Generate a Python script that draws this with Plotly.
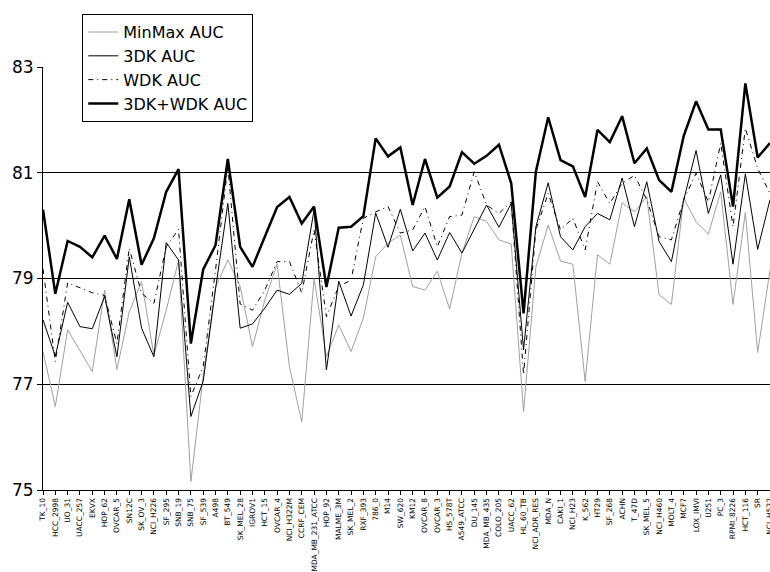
import plotly.graph_objects as go

# NCI-60 cell lines, in plotting order
cell_lines = [
    "TK_10", "HCC_2998", "UO_31", "UACC_257", "EKVX", "HOP_62", "OVCAR_5", "SN12C",
    "SK_OV_3", "NCI_H226", "SF_295", "SNB_19", "SNB_75", "SF_539", "A498", "BT_549",
    "SK_MEL_28", "IGROV1", "HCT_15", "OVCAR_4", "NCI_H322M", "CCRF_CEM",
    "MDA_MB_231_ATCC", "HOP_92", "MALME_3M", "SK_MEL_2", "RXF_393", "786_0", "M14",
    "SW_620", "KM12", "OVCAR_8", "OVCAR_3", "HS_578T", "A549_ATCC", "DU_145",
    "MDA_MB_435", "COLO_205", "UACC_62", "HL_60_TB", "NCI_ADR_RES", "MDA_N", "CAKI_1",
    "NCI_H23", "K_562", "HT29", "SF_268", "ACHN", "T_47D", "SK_MEL_5", "NCI_H460",
    "MOLT_4", "MCF7", "LOX_IMVI", "U251", "PC_3", "RPMI_8226", "HCT_116", "SR",
    "NCI_H522",
]

minmax_auc = [
    77.62, 76.58, 78.03, 77.64, 77.24, 78.78, 77.28, 78.37, 78.94, 77.55,
    78.40, 79.34, 75.16, 77.15, 78.83, 79.35, 78.85, 77.71, 78.59, 79.27,
    77.33, 76.29, 79.00, 77.52, 78.12, 77.62, 78.25, 79.41, 79.67, 79.82,
    78.85, 78.78, 79.14, 78.42, 79.48, 80.17, 80.08, 79.73, 79.65, 76.48,
    79.22, 80.01, 79.33, 79.27, 77.05, 79.45, 79.27, 80.43, 80.26, 80.55,
    78.69, 78.51, 80.52, 80.07, 79.84, 80.64, 78.51, 80.25, 77.60, 79.16,
]

auc_3dk = [
    78.22, 77.53, 78.55, 78.09, 78.05, 78.66, 77.52, 79.41, 78.06, 77.52,
    79.68, 79.35, 76.39, 77.06, 78.80, 80.42, 78.06, 78.14, 78.44, 78.78,
    78.70, 78.91, 80.30, 77.27, 78.95, 78.29, 78.88, 80.24, 79.59, 80.31,
    79.52, 79.86, 79.35, 79.87, 79.48, 79.92, 80.39, 79.97, 80.42, 77.65,
    79.98, 80.81, 79.79, 79.54, 79.98, 80.23, 80.11, 80.90, 79.98, 80.83,
    79.70, 79.32, 80.49, 81.42, 80.23, 80.96, 79.27, 80.98, 79.55, 80.49,
]

auc_wdk = [
    79.18, 77.43, 78.92, 78.82, 78.73, 78.68, 77.77, 79.57, 78.72, 78.53,
    79.60, 79.93, 76.77, 77.33, 79.16, 81.12, 78.52, 78.40, 78.78, 79.32,
    79.32, 78.73, 79.92, 78.28, 78.85, 78.97, 80.14, 80.26, 80.36, 79.86,
    79.92, 80.36, 79.60, 80.17, 80.20, 81.02, 80.39, 80.23, 80.45, 77.18,
    79.92, 80.61, 79.92, 80.14, 79.54, 80.83, 80.42, 80.80, 80.95, 80.49,
    79.79, 79.73, 80.49, 80.99, 80.45, 81.56, 79.98, 81.84, 81.08, 80.61,
]

auc_3dk_wdk = [
    80.30, 78.71, 79.71, 79.60, 79.40, 79.81, 79.37, 80.50, 79.26, 79.76,
    80.64, 81.07, 77.77, 79.17, 79.63, 81.26, 79.60, 79.22, 79.79, 80.35,
    80.54, 80.04, 80.36, 78.84, 79.96, 79.98, 80.18, 81.65, 81.31, 81.48,
    80.39, 81.26, 80.53, 80.74, 81.39, 81.17, 81.32, 81.53, 80.80, 78.34,
    81.02, 82.05, 81.24, 81.12, 80.54, 81.81, 81.58, 82.07, 81.18, 81.46,
    80.86, 80.64, 81.70, 82.35, 81.82, 81.82, 80.36, 82.69, 81.29, 81.56,
]

y_ticks = [75, 77, 79, 81, 83]

FONT = "DejaVu Sans"

fig = go.Figure()
fig.add_trace(go.Scatter(
    x=cell_lines, y=minmax_auc, mode="lines", name="MinMax AUC",
    line=dict(color="#a0a0a0", width=1),
))
fig.add_trace(go.Scatter(
    x=cell_lines, y=auc_3dk, mode="lines", name="3DK AUC",
    line=dict(color="black", width=1),
))
fig.add_trace(go.Scatter(
    x=cell_lines, y=auc_wdk, mode="lines", name="WDK AUC",
    line=dict(color="black", width=1, dash="5px,4px,1px,4px"),
))
fig.add_trace(go.Scatter(
    x=cell_lines, y=auc_3dk_wdk, mode="lines", name="3DK+WDK AUC",
    line=dict(color="black", width=2.5),
))

fig.update_layout(
    width=770, height=572,
    margin=dict(l=43, r=0, t=67, b=82),
    paper_bgcolor="white", plot_bgcolor="white",
    font=dict(family=FONT, color="black"),
    showlegend=True,
    legend=dict(
        x=0.054, y=1.125, xanchor="left", yanchor="top",
        bgcolor="white", bordercolor="black", borderwidth=1,
        font=dict(family=FONT, size=16, color="black"),
        itemwidth=30, tracegroupgap=0,
    ),
)

# the category axis runs edge to edge; the last line's label sits on the page edge
fig.update_xaxes(
    type="category", range=[0, 59], automargin=False,
    showgrid=False, zeroline=False,
    showline=True, linecolor="black", linewidth=1,
    ticks="outside", ticklen=4, tickcolor="black",
    tickangle=-90, tickfont=dict(family=FONT, size=7.5, color="black"),
)
fig.update_yaxes(
    range=[75, 83], tickmode="array", tickvals=y_ticks,
    ticktext=[str(v) for v in y_ticks], automargin=False,
    showgrid=True, gridcolor="black", gridwidth=1, zeroline=False,
    showline=True, linecolor="black", linewidth=1,
    ticks="outside", ticklen=5, tickcolor="black",
    tickfont=dict(family=FONT, size=17, color="black"),
)

fig.write_html("out.html")
